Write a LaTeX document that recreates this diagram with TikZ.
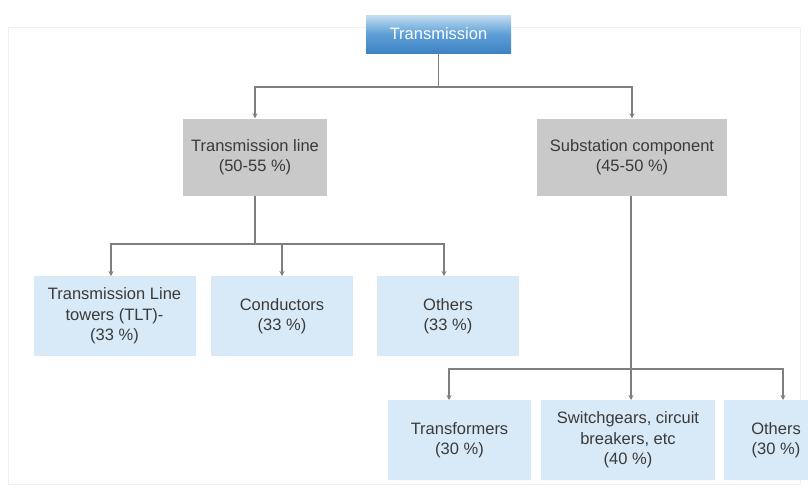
\documentclass[tikz,border=0pt]{standalone}
\usepackage{fontspec}
\setmainfont{Liberation Sans}
\usetikzlibrary{arrows.meta}
\definecolor{txt}{HTML}{3A3A3A}
\definecolor{linec}{HTML}{7F7F7F}
\definecolor{graybox}{HTML}{C9C9C9}
\definecolor{leafbox}{HTML}{D8EAF7}
\definecolor{toptop}{HTML}{C4DEF1}
\definecolor{topmid}{HTML}{5E9FD6}
\definecolor{topbot}{HTML}{3E82C2}
\definecolor{frame}{HTML}{F0F0F0}
\tikzset{
  base/.style={rectangle, inner sep=0pt, align=center, text=txt,
    font=\fontsize{16.5}{20.5}\selectfont},
  topbox/.style={base, minimum width=145pt, minimum height=38pt, text=white,
    top color=toptop, bottom color=topbot, middle color=topmid},
  midbox/.style={base, fill=graybox, minimum height=77pt},
  leaf/.style={base, fill=leafbox, minimum height=80pt},
  conn/.style={draw=linec, line width=1.1pt},
  arr/.style={conn, -{Stealth[length=5pt,width=5pt]}}
}
\begin{document}
\begin{tikzpicture}[x=1pt,y=-1pt]
\useasboundingbox (0,0) rectangle (808,490);
\draw[frame, line width=0.8pt] (8,27) rectangle (800,484);
% nodes
\node[topbox] (top) at (438.5,34) {Transmission};
\node[midbox, minimum width=144pt] (TL) at (255,157) {Transmission line\\(50-55 \%)};
\node[midbox, minimum width=190pt] (SC) at (632,157) {Substation component\\(45-50 \%)};
\node[leaf, minimum width=162pt] (L1) at (114.5,316) {Transmission Line\\towers (TLT)-\\(33 \%)};
\node[leaf, minimum width=142pt] (L2) at (282,316) {Conductors\\(33 \%)};
\node[leaf, minimum width=142pt] (L3) at (448,316) {Others\\(33 \%)};
\node[leaf, minimum width=143pt] (R1) at (459.5,440) {Transformers\\(30 \%)};
\node[leaf, minimum width=174pt] (R2) at (628,440) {Switchgears, circuit\\breakers, etc\\(40 \%)};
\node[leaf, minimum width=104pt] (R3) at (776,440) {Others\\(30 \%)};
% bus coordinates
\coordinate (b1) at (438,87);
\coordinate (b2) at (255,244);
\coordinate (b3) at (631,369);
\coordinate (a1) at (111,276);
\coordinate (a2) at (282,276);
\coordinate (a3) at (444,276);
\coordinate (c1) at (449,400);
\coordinate (c2) at (631,400);
\coordinate (c3) at (783,400);
% connectors
\draw[conn] (top.south) -- (top.south |- b1);
\draw[arr] (top.south |- b1) -| (TL.north);
\draw[arr] (top.south |- b1) -| (SC.north);
\draw[conn] (TL.south) -- (TL.south |- b2);
\draw[arr] (TL.south |- b2) -| (a1);
\draw[arr] (TL.south |- b2) -| (a2);
\draw[arr] (TL.south |- b2) -| (a3);
\draw[conn] (SC.south -| b3) -- (b3);
\draw[arr] (b3) -| (c1);
\draw[arr] (b3) -- (c2);
\draw[arr] (b3) -| (c3);
\end{tikzpicture}
\end{document}
